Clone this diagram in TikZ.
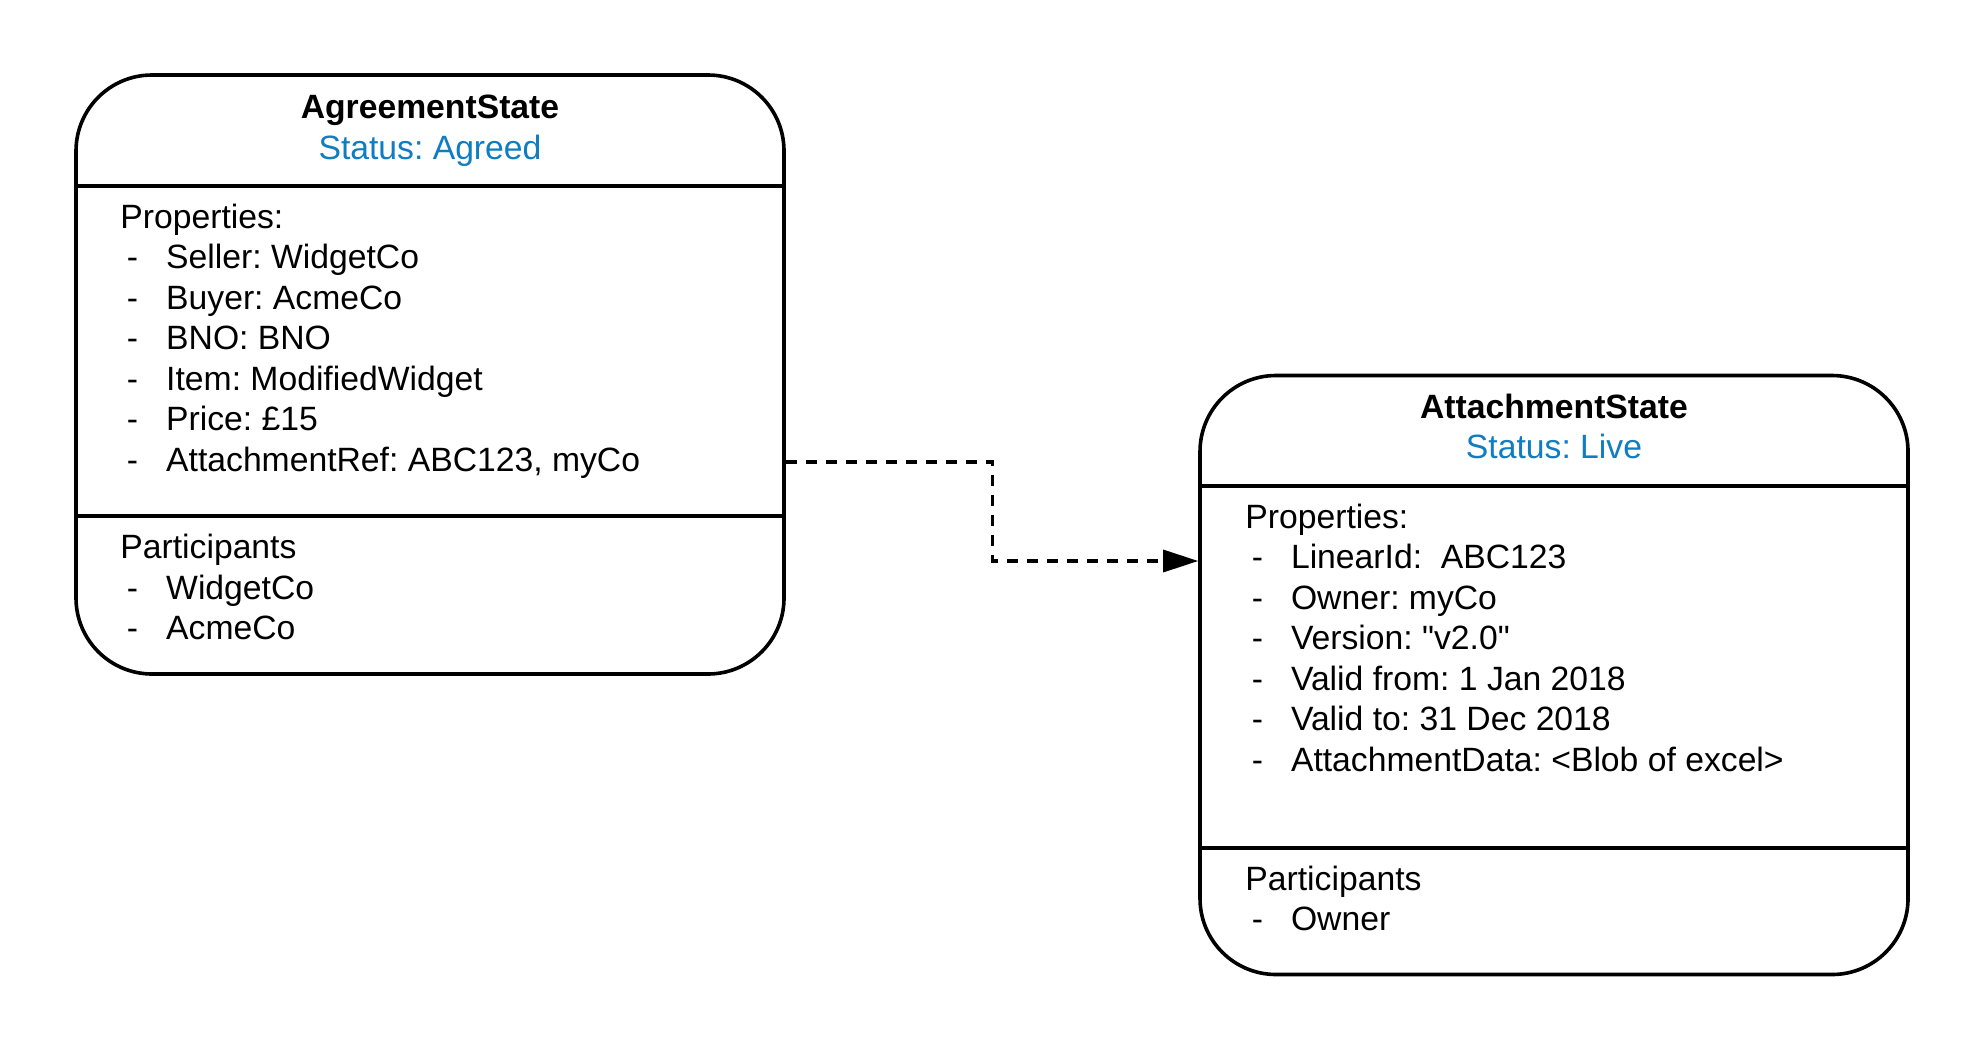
\documentclass[tikz,border=0pt]{standalone}
\usepackage{fontspec}
\setmainfont{Liberation Sans}
\newfontfamily\plainfam{Liberation Sans}[Ligatures=TeXOff]
\frenchspacing
\usetikzlibrary{arrows.meta}
\definecolor{statusblue}{RGB}{16,125,193}
\begin{document}
\begin{tikzpicture}[x=0.5pt,y=-0.5pt,
  statebox/.style={draw=black, line width=1.8pt, rounded corners=38pt, minimum width=354pt, minimum height=299.5pt, inner sep=0pt},
  divider/.style={line width=1.8pt},
  txt/.style={inner sep=0pt, font=\fontsize{16.85}{20.25}\selectfont, anchor=base west},
  ttl/.style={inner sep=0pt, font=\fontsize{16.85}{20.25}\selectfont\bfseries, anchor=base},
  stat/.style={inner sep=0pt, font=\fontsize{16.85}{20.25}\selectfont, text=statusblue, anchor=base},
  conn/.style={line width=1.6pt, dash pattern=on 5.5pt off 4.5pt, -{Triangle[length=17.5pt,width=11pt]}}
]
\useasboundingbox (0,0) rectangle (1984,1050);
% boxes
\node[statebox] (L) at (430,374.5) {};
\node[statebox] (R) at (1554,675) {};
% dividers
\draw[divider] (L.west |- 0,186) -- (L.east |- 0,186);
\draw[divider] (L.west |- 0,516) -- (L.east |- 0,516);
\draw[divider] (R.west |- 0,486) -- (R.east |- 0,486);
\draw[divider] (R.west |- 0,848) -- (R.east |- 0,848);
% left box texts
\node[ttl] (Ltitle) at (430,118) {AgreementState};
\node[stat] (Lstatus) at (430,159) {Status: Agreed};
\node[txt] (Lprops) at (120,228.4) {Properties:};
\node[txt] (Ld1) at (126.5,268.9) {-};
\node[txt] (Li1) at (165.8,268.9) {Seller: WidgetCo};
\node[txt] (Ld2) at (126.5,309.3) {-};
\node[txt] (Li2) at (165.8,309.3) {Buyer: AcmeCo};
\node[txt] (Ld3) at (126.5,349.8) {-};
\node[txt] (Li3) at (165.8,349.8) {BNO: BNO};
\node[txt] (Ld4) at (126.5,390.3) {-};
\node[txt] (Li4) at (165.8,390.3) {Item: ModifiedWidget};
\node[txt] (Ld5) at (126.5,430.8) {-};
\node[txt] (Li5) at (165.8,430.8) {Price: £15};
\node[txt] (Ld6) at (126.5,471.3) {-};
\node[txt] (Li6) at (165.8,471.3) {AttachmentRef: ABC123, myCo};
\node[txt] (Lparts) at (120,558.6) {Participants};
\node[txt] (Ld7) at (126.5,599.1) {-};
\node[txt] (Li7) at (165.8,599.1) {WidgetCo};
\node[txt] (Ld8) at (126.5,639.6) {-};
\node[txt] (Li8) at (165.8,639.6) {AcmeCo};
% right box texts
\node[ttl] (Rtitle) at (1554,418.2) {AttachmentState};
\node[stat] (Rstatus) at (1554,458.7) {Status: Live};
\node[txt] (Rprops) at (1245,528.2) {Properties:};
\node[txt] (Rd1) at (1251.5,568.7) {-};
\node[txt] (Ri1) at (1290.6,568.7) {LinearId:\ \ ABC123};
\node[txt] (Rd2) at (1251.5,609.2) {-};
\node[txt] (Ri2) at (1290.6,609.2) {Owner: myCo};
\node[txt] (Rd3) at (1251.5,649.6) {-};
\node[txt] (Ri3) at (1290.6,649.6) {{\plainfam Version: "v2.0"}};
\node[txt] (Rd4) at (1251.5,690.1) {-};
\node[txt] (Ri4) at (1290.6,690.1) {Valid from: 1 Jan 2018};
\node[txt] (Rd5) at (1251.5,730.6) {-};
\node[txt] (Ri5) at (1290.6,730.6) {Valid to: 31 Dec 2018};
\node[txt] (Rd6) at (1251.5,771.1) {-};
\node[txt] (Ri6) at (1290.6,771.1) {AttachmentData: <Blob of excel>};
\node[txt] (Rparts) at (1245,890.1) {Participants};
\node[txt] (Rd7) at (1251.5,930.6) {-};
\node[txt] (Ri7) at (1290.6,930.6) {Owner};
% connector
\draw[conn] ([yshift=-43.75pt]L.east) -- ++(207,0) |- ([yshift=57pt]R.west);
\end{tikzpicture}
\end{document}
